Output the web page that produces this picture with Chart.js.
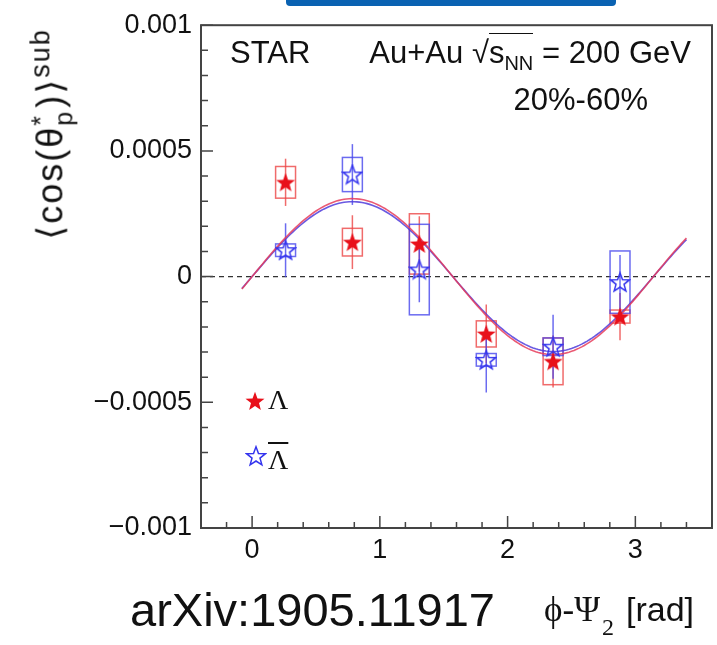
<!DOCTYPE html>
<html>
<head>
<meta charset="utf-8">
<title>Lambda polarization vs phi - Psi2</title>
<script src="https://cdn.jsdelivr.net/npm/chart.js@4.4.1/dist/chart.umd.min.js"></script>
<style>
  html, body { margin: 0; padding: 0; background: #fff; }
  #wrap { position: relative; width: 717px; height: 645px; overflow: hidden;
          font-family: "Liberation Sans", Arial, Helvetica, sans-serif; color: #111; }
  #chart { position: absolute; left: 0; top: 0; }
  .lbl { position: absolute; white-space: nowrap; line-height: 1; }
  .lbl sub, .lbl sup { line-height: 0; }
  .serif { font-family: "Liberation Serif", "Times New Roman", serif; }
  #topbar { position: absolute; left: 286px; top: 0; width: 330px; height: 6px;
            background: #0a62b2; border-radius: 0 0 4px 4px; }
  .root { font-size: 31px; }
  .sqrt { display: inline-block; }
  .rad { border-top: 1.5px solid #111; padding-top: 1px; }
  #ytitle { position: absolute; left: 52px; top: 134px; font-size: 36px; white-space: nowrap; line-height: 1;
            letter-spacing: 2px; transform: translate(-50%, -50%) rotate(-90deg); }
  .stack { display: inline-block; vertical-align: middle; line-height: 0.95; font-size: 25px; text-align: left;
           margin-right: 2px; }
  .stack span { display: block; }
</style>
</head>
<body>
<div id="wrap">
  <canvas id="chart" width="717" height="645"></canvas>
  <div id="topbar"></div>
  <div class="lbl root" style="left:230px; top:37px;">STAR</div>
  <div class="lbl root" style="right:26px; top:37px;">Au+Au <span class="sqrt">&radic;</span><span class="rad">s<sub style="font-size:20px">NN</sub></span> = 200 GeV</div>
  <div class="lbl root" style="right:69px; top:84px;">20%-60%</div>
  <div id="ytitle">&#10216;cos(&theta;<span class="stack"><span>*</span><span>p</span></span>)&#10217;<sup style="font-size:27px">sub</sup></div>
  <div class="lbl" style="left:130px; top:586px; font-size:47px;">arXiv:1905.11917</div>
  <div class="lbl" style="right:23px; top:592px; font-size:34px;"><span class="serif" style="font-size:35px">&#981;-&Psi;<span style="font-size:24px; position:relative; top:14px; margin-left:2px;">2</span></span><span style="margin-left:12px">[rad]</span></div>
  <div class="lbl serif" style="left:268px; top:386px; font-size:28px;">&Lambda;</div>
  <div class="lbl serif" style="left:268px; top:446px; font-size:28px; text-decoration:overline;">&Lambda;</div>
</div>
<script>
// phi - Psi2 bin centres [rad]
const phiBins = [0.262, 0.785, 1.309, 1.833, 2.356, 2.880];

// Lambda (filled red stars)
const lambdaVals = [0.000375, 0.000137, 0.000130, -0.000228, -0.000337, -0.000159];
const lambdaStat = [0.000094, 0.000107, 0.000110, 0.000117, 0.000104, 0.000094];
const lambdaSys  = [0.000063, 0.000055, 0.000120, 0.000052, 0.000093, 0.000026];

// anti-Lambda (open blue stars)
const antiVals = [0.000105, 0.000406, 0.000028, -0.000331, -0.000279, -0.000022];
const antiStat = [0.000107, 0.000121, 0.000130, 0.000130, 0.000127, 0.000108];
const antiSys  = [0.000025, 0.000068, 0.000180, 0.000025, 0.000035, 0.000124];

// half width of the systematic boxes [rad]
const sysHalfWidth = 0.078;

// fit  p0 + p1 * sin(2(phi - Psi2)), [Lambda, anti-Lambda]
const fitOffset = [0.0, 0.0];
const fitAmp = [0.000310, 0.000298];
const fitRange = [-0.08, 3.40];

// axes
const xMajorTicks = [0, 1, 2, 3];
const xTickLabels = ['0', '1', '2', '3'];
const xMinorTicks = [-0.2, 0.2, 0.4, 0.6, 0.8, 1.2, 1.4, 1.6, 1.8, 2.2, 2.4, 2.6, 2.8, 3.2, 3.4];
const yMajorTicks = [-0.001, -0.0005, 0, 0.0005, 0.001];
const yTickLabels = ['\u22120.001', '\u22120.0005', '0', '0.0005', '0.001'];
const yMinorTicks = [-0.0009, -0.0008, -0.0007, -0.0006, -0.0004, -0.0003, -0.0002, -0.0001,
                     0.0001, 0.0002, 0.0003, 0.0004, 0.0006, 0.0007, 0.0008, 0.0009];

const RED = '#e8101a';
const BLUE = '#3434ee';
const FONT = '"Liberation Sans", Arial, Helvetica, sans-serif';

function makeStar(fill, stroke) {
    const c = document.createElement('canvas');
    c.width = 22; c.height = 22;
    const g = c.getContext('2d');
    g.beginPath();
    for (let i = 0; i < 10; i++) {
        const r = i % 2 ? 4.2 : 10;
        const a = -Math.PI / 2 + i * Math.PI / 5;
        g.lineTo(11 + r * Math.cos(a), 11.8 + r * Math.sin(a));
    }
    g.closePath();
    if (fill) { g.fillStyle = fill; g.fill(); }
    if (stroke) { g.strokeStyle = stroke; g.lineWidth = 1.5; g.stroke(); }
    return c;
}
const redStar = makeStar(RED, null);
const blueStar = makeStar(null, BLUE);

function fitCurve(k) {
    const pts = [];
    for (let x = fitRange[0]; x <= fitRange[1] + 1e-9; x += 0.02) {
        pts.push({ x: x, y: fitOffset[k] + fitAmp[k] * Math.sin(2 * x) });
    }
    return pts;
}

// systematic boxes, stat bars, zero line
const errorPlugin = {
    id: 'errors',
    beforeDatasetsDraw(chart) {
        const { ctx, chartArea, scales: { x, y } } = chart;
        ctx.save();
        ctx.strokeStyle = '#333';
        ctx.lineWidth = 1.2;
        ctx.setLineDash([5, 4]);
        ctx.beginPath();
        ctx.moveTo(chartArea.left, y.getPixelForValue(0));
        ctx.lineTo(chartArea.right, y.getPixelForValue(0));
        ctx.stroke();
        ctx.setLineDash([]);

        const sets = [
            { vals: lambdaVals, stat: lambdaStat, sys: lambdaSys, col: 'rgba(236,70,70,0.8)' },
            { vals: antiVals, stat: antiStat, sys: antiSys, col: 'rgba(70,70,236,0.8)' }
        ];
        sets.forEach(s => {
            ctx.strokeStyle = s.col;
            ctx.lineWidth = 1.5;
            phiBins.forEach((phi, i) => {
                const x0 = x.getPixelForValue(phi - sysHalfWidth);
                const x1 = x.getPixelForValue(phi + sysHalfWidth);
                const yTop = y.getPixelForValue(s.vals[i] + s.sys[i]);
                const yBot = y.getPixelForValue(s.vals[i] - s.sys[i]);
                ctx.strokeRect(x0, yTop, x1 - x0, yBot - yTop);
                const xc = x.getPixelForValue(phi);
                ctx.beginPath();
                ctx.moveTo(xc, y.getPixelForValue(s.vals[i] + s.stat[i]));
                ctx.lineTo(xc, y.getPixelForValue(s.vals[i] - s.stat[i]));
                ctx.stroke();
            });
        });
        ctx.restore();
    },
    afterDraw(chart) {
        const { ctx, chartArea: a, scales: { x, y } } = chart;
        ctx.save();
        // frame
        ctx.strokeStyle = '#444';
        ctx.lineWidth = 2;
        ctx.strokeRect(a.left, a.top, a.right - a.left, a.bottom - a.top);
        // inward ticks
        ctx.lineWidth = 1.5;
        ctx.beginPath();
        xMajorTicks.forEach(v => { const p = x.getPixelForValue(v); ctx.moveTo(p, a.bottom); ctx.lineTo(p, a.bottom - 12); });
        xMinorTicks.forEach(v => { const p = x.getPixelForValue(v); ctx.moveTo(p, a.bottom); ctx.lineTo(p, a.bottom - 6); });
        yMajorTicks.forEach(v => { const p = y.getPixelForValue(v); ctx.moveTo(a.left, p); ctx.lineTo(a.left + 12, p); });
        yMinorTicks.forEach(v => { const p = y.getPixelForValue(v); ctx.moveTo(a.left, p); ctx.lineTo(a.left + 7, p); });
        ctx.stroke();
        // legend markers
        ctx.drawImage(redStar, 255 - 11, 402 - 12);
        ctx.drawImage(blueStar, 256 - 11, 457 - 12);
        ctx.restore();
    }
};

const data = {
    datasets: [
        {
            label: '\u039b',
            data: phiBins.map((p, i) => ({ x: p, y: lambdaVals[i] })),
            pointStyle: redStar,
            order: 0
        },
        {
            label: 'anti-\u039b',
            data: phiBins.map((p, i) => ({ x: p, y: antiVals[i] })),
            pointStyle: blueStar,
            order: 0
        },
        {
            label: '\u039b fit',
            data: fitCurve(0),
            showLine: true,
            pointRadius: 0,
            borderColor: 'rgba(230,60,90,0.85)',
            borderWidth: 1.6,
            order: 1
        },
        {
            label: 'anti-\u039b fit',
            data: fitCurve(1),
            showLine: true,
            pointRadius: 0,
            borderColor: 'rgba(80,60,220,0.85)',
            borderWidth: 1.6,
            order: 2
        }
    ]
};

const tickFont = { family: FONT, size: 27 };

new Chart(document.getElementById('chart'), {
    type: 'scatter',
    data: data,
    options: {
        responsive: false,
        maintainAspectRatio: false,
        devicePixelRatio: 1,
        animation: false,
        events: [],
        layout: { padding: { left: 0, top: 16, right: 4, bottom: 0 } },
        plugins: { legend: { display: false }, tooltip: { enabled: false } },
        scales: {
            x: {
                type: 'linear',
                min: -0.4,
                max: 3.6,
                grid: { display: false, drawTicks: false },
                border: { display: false },
                afterBuildTicks: s => { s.ticks = xMajorTicks.map(v => ({ value: v })); },
                afterFit: s => { s.height = 117; },
                ticks: {
                    autoSkip: false,
                    maxRotation: 0,
                    padding: 6,
                    color: '#111',
                    font: tickFont,
                    callback: (v, i) => xTickLabels[i]
                }
            },
            y: {
                type: 'linear',
                min: -0.001,
                max: 0.001,
                grid: { display: false, drawTicks: false },
                border: { display: false },
                afterBuildTicks: s => { s.ticks = yMajorTicks.map(v => ({ value: v })); },
                afterFit: s => { s.width = 201; },
                ticks: {
                    autoSkip: false,
                    padding: 9,
                    color: '#111',
                    font: tickFont,
                    callback: (v, i) => yTickLabels[i]
                }
            }
        }
    },
    plugins: [errorPlugin]
});
</script>
</body>
</html>
